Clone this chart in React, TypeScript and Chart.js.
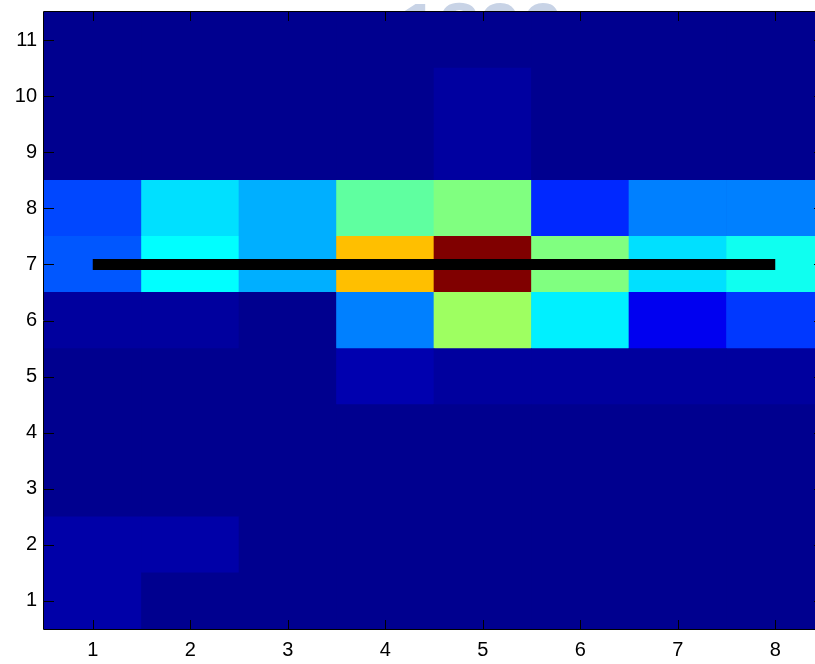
import React, { useEffect, useRef } from "react";
import { Chart, registerables } from "chart.js";

Chart.register(...registerables);

// Column positions (x) and row positions (y)
const columns = ["1", "2", "3", "4", "5", "6", "7", "8"];
const rowPositions = [1, 2, 3, 4, 5, 6, 7, 8, 9, 10, 11];

// Normalised intensity per row (index 0 = y 1), one value per column
const row1 = [0.04, 0.015, 0.015, 0.015, 0.015, 0.015, 0.015, 0.015];
const row2 = [0.04, 0.04, 0.015, 0.015, 0.015, 0.015, 0.015, 0.015];
const row3 = [0.015, 0.015, 0.015, 0.015, 0.015, 0.015, 0.015, 0.015];
const row4 = [0.015, 0.015, 0.015, 0.015, 0.015, 0.015, 0.015, 0.015];
const row5 = [0.015, 0.015, 0.015, 0.047, 0.03, 0.03, 0.03, 0.03];
const row6 = [0.03, 0.03, 0.015, 0.25, 0.53, 0.36, 0.11, 0.18];
const row7 = [0.21, 0.375, 0.297, 0.6875, 1.0, 0.5, 0.345, 0.39];
const row8 = [0.195, 0.345, 0.297, 0.468, 0.5, 0.164, 0.25, 0.25];
const row9 = [0.015, 0.015, 0.015, 0.015, 0.032, 0.015, 0.015, 0.015];
const row10 = [0.015, 0.015, 0.015, 0.015, 0.032, 0.015, 0.015, 0.015];
const row11 = [0.015, 0.015, 0.015, 0.015, 0.015, 0.015, 0.015, 0.015];
const rows = [row1, row2, row3, row4, row5, row6, row7, row8, row9, row10, row11];

// Horizontal reference line
const lineLevel = [7, 7, 7, 7, 7, 7, 7, 7];

const yTicks = [1, 2, 3, 4, 5, 6, 7, 8, 9, 10, 11];

const clamp = (v: number) => Math.max(0, Math.min(1, v));
function jet(v: number): string {
  const r = clamp(1.5 - Math.abs(4 * v - 3));
  const g = clamp(1.5 - Math.abs(4 * v - 2));
  const b = clamp(1.5 - Math.abs(4 * v - 1));
  return `rgb(${Math.round(r * 255)},${Math.round(g * 255)},${Math.round(b * 255)})`;
}

const FONT = "'Liberation Sans', Arial, Helvetica, sans-serif";

const watermark = {
  id: "watermark",
  beforeDraw(chart: any) {
    const ctx = chart.ctx;
    ctx.save();
    ctx.fillStyle = "rgb(200,211,230)";
    ctx.font = `bold 74px ${FONT}`;
    ctx.textAlign = "center";
    ctx.textBaseline = "alphabetic";
    ctx.fillText("1896", 480, 55);
    ctx.restore();
  },
};

const backdrop = {
  id: "backdrop",
  beforeDatasetsDraw(chart: any) {
    const { ctx, chartArea } = chart;
    ctx.save();
    ctx.fillStyle = jet(0.015);
    ctx.fillRect(chartArea.left, chartArea.top, chartArea.right - chartArea.left, chartArea.bottom - chartArea.top);
    ctx.restore();
  },
};

const frame = {
  id: "frame",
  afterDraw(chart: any) {
    const { ctx, chartArea, scales } = chart;
    const { left, right, top, bottom } = chartArea;
    ctx.save();
    ctx.strokeStyle = "#000";
    ctx.lineWidth = 1;
    ctx.beginPath();
    ctx.rect(Math.round(left) - 0.5, Math.round(top) - 0.5, Math.round(right - left) + 1, Math.round(bottom - top) + 1);
    ctx.stroke();
    ctx.beginPath();
    yTicks.forEach((v) => {
      const py = Math.round(scales.y.getPixelForValue(v)) + 0.5;
      ctx.moveTo(left, py);
      ctx.lineTo(left + 10, py);
      ctx.moveTo(right, py);
      ctx.lineTo(right - 10, py);
    });
    columns.forEach((_, i) => {
      const px = Math.round(scales.x.getPixelForValue(i)) + 0.5;
      ctx.moveTo(px, bottom);
      ctx.lineTo(px, bottom - 9);
      ctx.moveTo(px, top);
      ctx.lineTo(px, top + 9);
    });
    ctx.stroke();
    ctx.restore();
  },
};

export default function App() {
  const ref = useRef<HTMLCanvasElement>(null);

  useEffect(() => {
    if (!ref.current) return;
    const cellSets = rows.map((vals, i) => ({
      type: "bar" as const,
      data: vals.map(() => [rowPositions[i] - 0.5, rowPositions[i] + 0.5]),
      backgroundColor: vals.map(jet),
      borderWidth: 0,
      grouped: false,
      barPercentage: 1,
      categoryPercentage: 1,
      order: 1,
    }));
    const chart = new Chart(ref.current, {
      type: "bar",
      data: {
        labels: columns,
        datasets: [
          ...cellSets,
          {
            type: "line" as const,
            data: lineLevel,
            borderColor: "#000",
            borderWidth: 11,
            borderCapStyle: "butt",
            pointRadius: 0,
            fill: false,
            order: 0,
          } as any,
        ],
      },
      options: {
        responsive: false,
        animation: false,
        devicePixelRatio: 1,
        layout: { padding: { top: 12, right: 0, left: 0, bottom: 0 } },
        plugins: { legend: { display: false }, tooltip: { enabled: false } },
        scales: {
          x: {
            type: "category",
            offset: true,
            grid: { display: false, drawTicks: false },
            border: { display: false },
            ticks: { color: "#000", font: { family: FONT, size: 20 }, padding: 9, maxRotation: 0 },
            afterFit: (s: any) => {
              s.height = 35;
              s.paddingLeft = 0;
              s.paddingRight = 0;
            },
          },
          y: {
            type: "linear",
            min: 0.5,
            max: 11.5,
            grid: { display: false, drawTicks: false },
            border: { display: false },
            ticks: { color: "#000", font: { family: FONT, size: 20 }, padding: 7 },
            afterBuildTicks: (s: any) => {
              s.ticks = yTicks.map((v) => ({ value: v }));
            },
            afterFit: (s: any) => {
              s.width = 44;
              s.paddingTop = 0;
              s.paddingBottom = 0;
            },
          },
        },
      } as any,
      plugins: [watermark, backdrop, frame],
    });
    return () => chart.destroy();
  }, []);

  return (
    <div style={{ position: "fixed", left: 0, top: 0, width: 815, height: 664, overflow: "hidden", background: "#fff" }}>
      <canvas ref={ref} width={824} height={664} style={{ width: 824, height: 664, display: "block" }} />
    </div>
  );
}
